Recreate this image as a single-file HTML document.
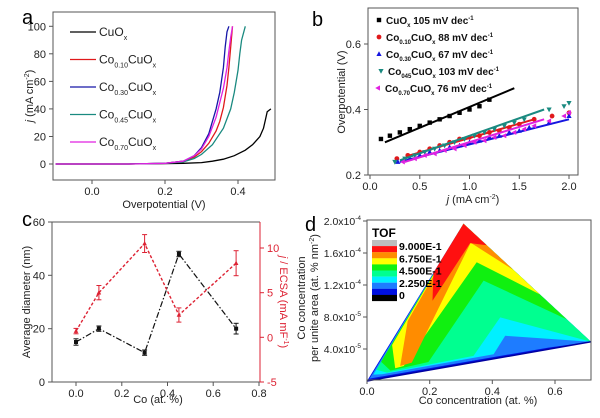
<!DOCTYPE html>
<html><head><meta charset="utf-8"><style>
body{margin:0;background:#fff}
svg{display:block;font-family:"Liberation Sans",sans-serif}
</style></head><body>
<svg id="fig" width="600" height="418" viewBox="0 0 600 418" xmlns="http://www.w3.org/2000/svg"></svg>
<script>
// ---- Panel a data ----
const aSeriesNames = ["CuOx","Co0.10CuOx","Co0.30CuOx","Co0.45CuOx","Co0.70CuOx"];
const aX0 = [-0.1,0.0,0.1,0.2,0.25,0.3,0.33,0.36,0.39,0.42,0.44,0.46,0.47,0.475,0.48,0.49];
const aY0 = [0,0,0,0.3,0.5,1,2,3.5,6,10,14,20,26,32,38,40];
const aX1 = [-0.1,0.0,0.1,0.2,0.25,0.28,0.3,0.32,0.34,0.35,0.36,0.37,0.375,0.38,0.385];
const aY1 = [0,0,0,0.5,2,5,9,15,24,31,41,57,70,85,100];
const aX2 = [-0.1,0.0,0.1,0.2,0.25,0.28,0.3,0.32,0.34,0.35,0.36,0.365,0.37,0.375];
const aY2 = [0,0,0,0.5,2,6,12,22,40,52,70,85,96,100];
const aX3 = [-0.1,0.0,0.1,0.2,0.25,0.28,0.3,0.33,0.36,0.38,0.39,0.40,0.405,0.41,0.42];
const aY3 = [0,0,0,0.5,1.5,4,7,14,26,40,52,68,80,90,100];
const aX4 = [-0.1,0.0,0.1,0.2,0.25,0.28,0.3,0.32,0.34,0.36,0.37,0.375,0.38,0.385];
const aY4 = [0,0,0,0.5,2,6,11,20,34,55,70,82,92,100];
const aXTicks = [0.0,0.2,0.4];
const aYTicks = [0,20,40,60,80,100];
// ---- Panel b data ----
const bX0 = [0.11,0.2,0.3,0.4,0.5,0.6,0.7,0.8,0.9,1.0,1.1,1.2];
const bY0 = [0.31,0.32,0.33,0.34,0.35,0.36,0.37,0.38,0.39,0.40,0.41,0.43];
const bFit0 = [[0.15,0.30],[1.45,0.465]];
const bX1 = [0.27,0.38,0.5,0.6,0.7,0.8,0.9,1.0,1.1,1.2,1.3,1.4,1.5,1.65,1.83,2.0];
const bY1 = [0.25,0.26,0.27,0.28,0.29,0.30,0.31,0.315,0.32,0.33,0.335,0.345,0.355,0.37,0.38,0.39];
const bFit1 = [[0.4,0.26],[1.65,0.37]];
const bX2 = [0.28,0.4,0.5,0.6,0.7,0.8,0.9,1.0,1.1,1.2,1.3,1.4,1.5,1.6,1.8,2.0];
const bY2 = [0.24,0.25,0.26,0.27,0.275,0.285,0.29,0.30,0.305,0.315,0.32,0.33,0.335,0.345,0.36,0.38];
const bFit2 = [[0.3,0.24],[2.0,0.37]];
const bX3 = [0.25,0.35,0.45,0.55,0.65,0.75,0.85,0.95,1.05,1.15,1.25,1.35,1.45,1.55,1.8,1.95,2.0];
const bY3 = [0.24,0.25,0.26,0.27,0.28,0.29,0.30,0.31,0.32,0.33,0.34,0.35,0.36,0.37,0.40,0.41,0.42];
const bFit3 = [[0.3,0.245],[1.75,0.40]];
const bX4 = [0.33,0.45,0.55,0.65,0.75,0.85,0.95,1.05,1.15,1.25,1.35,1.45,1.55,1.65,1.8,1.95,2.0];
const bY4 = [0.24,0.25,0.26,0.265,0.275,0.28,0.29,0.30,0.305,0.315,0.32,0.33,0.34,0.35,0.365,0.38,0.39];
const bFit4 = [[0.35,0.24],[1.75,0.37]];
const bXTicks = [0.0,0.5,1.0,1.5,2.0];
const bYTicks = [0.2,0.4,0.6];
// ---- Panel c data ----
const cX = [0,0.1,0.3,0.45,0.7];
const cDiam = [15,20,11,48,20];
const cDiamErr = [1.2,1,1,1,2];
const cEcsa = [0.7,5,10.5,2.5,8.3];
const cEcsaErr = [0.3,0.8,1,0.8,1.4];
const cXTicks = [0.0,0.2,0.4,0.6,0.8];
const cYTicks = [0,20,40,60];
const cY2Ticks = [-5,0,5,10];
// ---- Panel d data (x in at.%, y in 1e-4) ----
const dLevelColors = ["#0010e0","#1e7cff","#00f0ff","#00ff90","#10f010","#ffff00","#ff8c00","#ff1010"];
const dLevel0 = [[0,0],[0.308,1.966],[0.715,0.49]];
const dLevel1 = [[0.008,0.03],[0.308,1.966],[0.715,0.49],[0.579,0.418]];
const dLevel2 = [[0.02,0.08],[0.308,1.966],[0.715,0.49],[0.441,0.565],[0.404,0.335],[0.048,0.084]];
const dLevel3 = [[0.03,0.14],[0.308,1.966],[0.715,0.49],[0.425,0.795],[0.34,0.314],[0.064,0.105]];
const dLevel4 = [[0.045,0.24],[0.308,1.966],[0.637,0.773],[0.372,1.255],[0.196,0.238],[0.075,0.13]];
const dLevel5 = [[0.08,0.45],[0.308,1.966],[0.552,1.081],[0.35,1.485],[0.117,0.188],[0.09,0.16]];
const dLevel6 = [[0.13,0.75],[0.308,1.966],[0.467,1.389],[0.331,1.728],[0.143,0.23],[0.106,0.188]];
const dLevel7 = [[0.209,1.004],[0.212,1.353],[0.308,1.966],[0.382,1.698],[0.329,1.724]];
const dLevels = [dLevel0,dLevel1,dLevel2,dLevel3,dLevel4,dLevel5,dLevel6,dLevel7];
const dXTicks = [0.0,0.2,0.4,0.6];
const dYTicks = [0.4,0.8,1.2,1.6,2.0];
const dYTickLabels = ["4.0x10","8.0x10","1.2x10","1.6x10","2.0x10"];
const dYTickExp = ["-5","-5","-4","-4","-4"];
const dLegendColors = ["#bdbdbd","#ff1010","#ff8c00","#ffff00","#10f010","#00ff90","#00f0ff","#1e7cff","#0010e0","#000000"];
const dLegendLabels = ["9.000E-1","6.750E-1","4.500E-1","2.250E-1","0"];

const NS="http://www.w3.org/2000/svg";
const svg=document.getElementById('fig');
function mk(tag,attrs,parent,text){const e=document.createElementNS(NS,tag);for(const k in attrs)e.setAttribute(k,attrs[k]);if(text!==undefined)e.textContent=text;(parent||svg).appendChild(e);return e;}
function lin(d0,d1,r0,r1){return v=>r0+(v-d0)/(d1-d0)*(r1-r0);}
function group(name){const g=mk('g',{});return g;}
function txt(g,x,y,s,opts,name){const t=mk('text',Object.assign({x:x,y:y,'font-size':11,fill:'#222'},opts||{}),g,s);return t;}
function box(g,x0,y0,x1,y1,name){const r=mk('rect',{x:x0,y:y0,width:x1-x0,height:y1-y0,fill:'none',stroke:'#555','stroke-width':1},g);}
function path(g,pts,attrs,name){const p=mk('path',Object.assign({d:'M'+pts.map(p=>p[0].toFixed(1)+','+p[1].toFixed(1)).join('L'),fill:'none'},attrs),g);return p;}
function xticks(g,ticks,sx,yb,fmt,name){ticks.forEach(t=>{path(g,[[sx(t),yb],[sx(t),yb+4]],{stroke:'#555'},'x-tick');txt(g,sx(t),yb+15,fmt(t),{'text-anchor':'middle'},name);});}
function yticks(g,ticks,sy,xl,fmt,name,right,color){ticks.forEach(t=>{const d=right?4:-4;path(g,[[xl,sy(t)],[xl+d,sy(t)]],{stroke:color||'#555'},'y-tick');txt(g,xl+(right?7:-7),sy(t)+4,fmt(t),{'text-anchor':right?'start':'end',fill:color||'#222'},name);});}

// ===== Panel a =====
(function(){
const g=group('panel-a');
const X0=53,X1=275,Y0=12,Y1=180;
const sx=lin(0,0.2,92,165), sy=lin(0,100,164,26.3);
box(g,X0,Y0,X1,Y1,'plot-area-a');
xticks(g,aXTicks,sx,Y1,t=>t.toFixed(1),'x-tick-label');
yticks(g,aYTicks,sy,X0,t=>String(t),'y-tick-label');
txt(g,22,24,'a',{'font-size':20,fill:'#000'},'panel-letter-a');
txt(g,164,208,'Overpotential (V)',{'text-anchor':'middle'},'x-axis-title-a');
const yl=txt(g,0,0,'',{'text-anchor':'middle',transform:'translate(33,96) rotate(-90)'},'y-axis-title-a');
yl.innerHTML='<tspan font-style="italic">j</tspan> (mA cm<tspan font-size="7" dy="-4">-2</tspan><tspan dy="4">)</tspan>';
const colors=['#000','#e0191b','#1616a8','#1a8a80','#e020e0'];
const xs=[aX0,aX1,aX2,aX3,aX4], ys=[aY0,aY1,aY2,aY3,aY4];
xs.forEach((X,i)=>{path(g,X.map((v,j)=>[sx(v),sy(ys[i][j])]),{stroke:colors[i],'stroke-width':1.3},'curve-'+aSeriesNames[i].toLowerCase().replace('.',''));});
const labs=[['CuO','','x'],['Co','0.10','CuO'],['Co','0.30','CuO'],['Co','0.45','CuO'],['Co','0.70','CuO']];
labs.forEach((l,i)=>{const y=32+i*27.5;path(g,[[70,y],[96,y]],{stroke:colors[i],'stroke-width':1.3},'legend-line');
const t=txt(g,99,y+4,'',{'font-size':12},'legend-entry');
if(i==0)t.innerHTML='CuO<tspan font-size="7" dy="4">x</tspan>';
else t.innerHTML='Co<tspan font-size="7" dy="4">'+l[1]+'</tspan><tspan dy="-4">CuO</tspan><tspan font-size="7" dy="4">x</tspan>';});
})();

// ===== Panel b =====
(function(){
const g=group('panel-b');
const X0=368,X1=578,Y0=8,Y1=175;
const sx=lin(0,2,370,569), sy=lin(0.2,0.6,175,44);
box(g,X0,Y0,X1,Y1,'plot-area-b');
xticks(g,bXTicks,sx,Y1,t=>t.toFixed(1),'x-tick-label');
yticks(g,bYTicks,sy,X0,t=>t.toFixed(1),'y-tick-label');
txt(g,312,26,'b',{'font-size':20,fill:'#000'},'panel-letter-b');
const xl=txt(g,473,203,'',{'text-anchor':'middle'},'x-axis-title-b');
xl.innerHTML='<tspan font-style="italic">j</tspan> (mA cm<tspan font-size="7" dy="-4">-2</tspan><tspan dy="4">)</tspan>';
txt(g,0,0,'Overpotential (V)',{'text-anchor':'middle',transform:'translate(345,92) rotate(-90)'},'y-axis-title-b');
const colors=['#000','#e0191b','#1616e0','#1a8a80','#e020e0'];
const X=[bX0,bX1,bX2,bX3,bX4],Y=[bY0,bY1,bY2,bY3,bY4],F=[bFit0,bFit1,bFit2,bFit3,bFit4];
const shapes=['sq','ci','tu','td','tl'];
function marker(x,y,s,c){let e;
if(s=='sq')e=mk('rect',{x:x-2.2,y:y-2.2,width:4.4,height:4.4,fill:c},g);
else if(s=='ci')e=mk('circle',{cx:x,cy:y,r:2.4,fill:c},g);
else if(s=='tu')e=mk('path',{d:`M${x},${y-2.8}L${x+2.6},${y+2}L${x-2.6},${y+2}Z`,fill:c},g);
else if(s=='td')e=mk('path',{d:`M${x},${y+2.8}L${x+2.6},${y-2}L${x-2.6},${y-2}Z`,fill:c},g);
else e=mk('path',{d:`M${x-2.8},${y}L${x+2},${y-2.6}L${x+2},${y+2.6}Z`,fill:c},g);
}
X.forEach((xs,i)=>{xs.forEach((v,j)=>marker(sx(v),sy(Y[i][j]),shapes[i],colors[i]));
path(g,F[i].map(p=>[sx(p[0]),sy(p[1])]),{stroke:colors[i],'stroke-width':2},'fit-line');});
const labs=[['','105'],['0.10','88'],['0.30','67'],['045','103'],['0.70','76']];
const lx=[386,386,386,388,385];
labs.forEach((l,i)=>{const y=20+i*17;marker(lx[i]-7,y,shapes[i],colors[i]);
const t=txt(g,lx[i],y+4,'',{'font-size':10,'font-weight':'bold',fill:'#111'},'legend-entry');
if(i==0)t.innerHTML='CuO<tspan font-size="6" dy="3">x</tspan><tspan dy="-3"> 105 mV dec</tspan><tspan font-size="6" dy="-4">-1</tspan>';
else t.innerHTML='Co<tspan font-size="6" dy="3">'+l[0]+'</tspan><tspan dy="-3">CuO</tspan><tspan font-size="6" dy="3">x</tspan><tspan dy="-3"> '+l[1]+' mV dec</tspan><tspan font-size="6" dy="-4">-1</tspan>';});
})();

// ===== Panel c =====
(function(){
const g=group('panel-c');
const X0=52,X1=260,Y0=222,Y1=382;
const sx=lin(0,0.8,76,259), sy=lin(0,60,382,222), sy2=lin(-5,10,382,248);
mk('path',{d:`M${X0},${Y1}L${X0},${Y0}L${X1},${Y0}M${X0},${Y1}L${X1},${Y1}`,stroke:'#555',fill:'none'},g);
path(g,[[X1,Y0],[X1,Y1]],{stroke:'#d23'},'right-axis-line');
xticks(g,cXTicks,sx,Y1,t=>t.toFixed(1),'x-tick-label');
yticks(g,cYTicks,sy,X0,t=>String(t),'y-tick-label');
yticks(g,cY2Ticks,sy2,X1,t=>String(t),'y2-tick-label',true,'#d23');
txt(g,22,226,'c',{'font-size':20,fill:'#000'},'panel-letter-c');
txt(g,158,403,'Co  (at. %)',{'text-anchor':'middle'},'x-axis-title-c');
txt(g,0,0,'Average diameter (nm)',{'text-anchor':'middle',transform:'translate(30,302) rotate(-90)'},'y-axis-title-c');
const r=txt(g,0,0,'',{'text-anchor':'middle',fill:'#d23',transform:'translate(280,302) rotate(90)'},'y2-axis-title-c');
r.innerHTML='<tspan font-style="italic">j</tspan> / ECSA (mA mF<tspan font-size="7" dy="-4">-1</tspan><tspan dy="4">)</tspan>';
path(g,cX.map((v,i)=>[sx(v),sy(cDiam[i])]),{stroke:'#111','stroke-width':1.2,'stroke-dasharray':'6,2,1.5,2'},'diameter-line');
path(g,cX.map((v,i)=>[sx(v),sy2(cEcsa[i])]),{stroke:'#d23','stroke-width':1.4,'stroke-dasharray':'3,2'},'ecsa-line');
cX.forEach((v,i)=>{const x=sx(v);
let a=sy(cDiam[i]-cDiamErr[i]),b=sy(cDiam[i]+cDiamErr[i]);
path(g,[[x,a],[x,b]],{stroke:'#111'},'error-bar');path(g,[[x-2.5,a],[x+2.5,a]],{stroke:'#111'},'error-cap');path(g,[[x-2.5,b],[x+2.5,b]],{stroke:'#111'},'error-cap');
const s=mk('rect',{x:x-2,y:sy(cDiam[i])-2,width:4,height:4,fill:'#111'},g);
a=sy2(cEcsa[i]-cEcsaErr[i]);b=sy2(cEcsa[i]+cEcsaErr[i]);
path(g,[[x,a],[x,b]],{stroke:'#d23'},'error-bar');path(g,[[x-2.5,a],[x+2.5,a]],{stroke:'#d23'},'error-cap');path(g,[[x-2.5,b],[x+2.5,b]],{stroke:'#d23'},'error-cap');
const y=sy2(cEcsa[i]);const t=mk('path',{d:`M${x},${y-2.5}L${x+2.3},${y+1.8}L${x-2.3},${y+1.8}Z`,fill:'#d23'},g);});
})();

// ===== Panel d =====
(function(){
const g=group('panel-d');
const X0=367,X1=591,Y0=220,Y1=380;
const sx=lin(0,0.6,367,555), sy=lin(0,2.0,381,221);
dLevels.forEach((poly,i)=>{const p=mk('polygon',{points:poly.map(q=>sx(q[0]).toFixed(1)+','+sy(q[1]).toFixed(1)).join(' '),fill:dLevelColors[i]},g);});
path(g,[[sx(0),sy(0)],[sx(0.715),sy(0.49)]],{stroke:'#0000a0','stroke-width':1.5},'contour-edge');
box(g,X0,Y0,X1,Y1,'plot-area-d');
xticks(g,dXTicks,sx,Y1,t=>t.toFixed(1),'x-tick-label');
dYTicks.forEach((t,i)=>{const y=sy(t);path(g,[[X0,y],[X0-4,y]],{stroke:'#555'},'y-tick');
const tl=txt(g,X0-6,y+4,'',{'text-anchor':'end','font-size':10.5},'y-tick-label');
tl.innerHTML=dYTickLabels[i]+'<tspan font-size="6.5" dy="-5">'+dYTickExp[i]+'</tspan>';});
txt(g,305,231,'d',{'font-size':20,fill:'#000'},'panel-letter-d');
txt(g,478,404,'Co concentration (at. %)',{'text-anchor':'middle'},'x-axis-title-d');
txt(g,0,0,'Co concentration',{'text-anchor':'middle',transform:'translate(305,298) rotate(-90)'},'y-axis-title-d-line1');
const yl=txt(g,0,0,'',{'text-anchor':'middle',transform:'translate(318,298) rotate(-90)'},'y-axis-title-d-line2');
yl.innerHTML='per unite area (at. % nm<tspan font-size="7" dy="-4">-2</tspan><tspan dy="4">)</tspan>';
txt(g,372,237,'TOF',{'font-size':12,'font-weight':'bold',fill:'#000'},'legend-title');
dLegendColors.forEach((c,i)=>{const r=mk('rect',{x:372,y:240+i*6.1,width:25,height:6.2,fill:c},g);});
dLegendLabels.forEach((l,i)=>{txt(g,399,250+i*12.3,l,{'font-size':10.5,'font-weight':'bold',fill:'#000'},'legend-label');});
})();
</script>
</body></html>
